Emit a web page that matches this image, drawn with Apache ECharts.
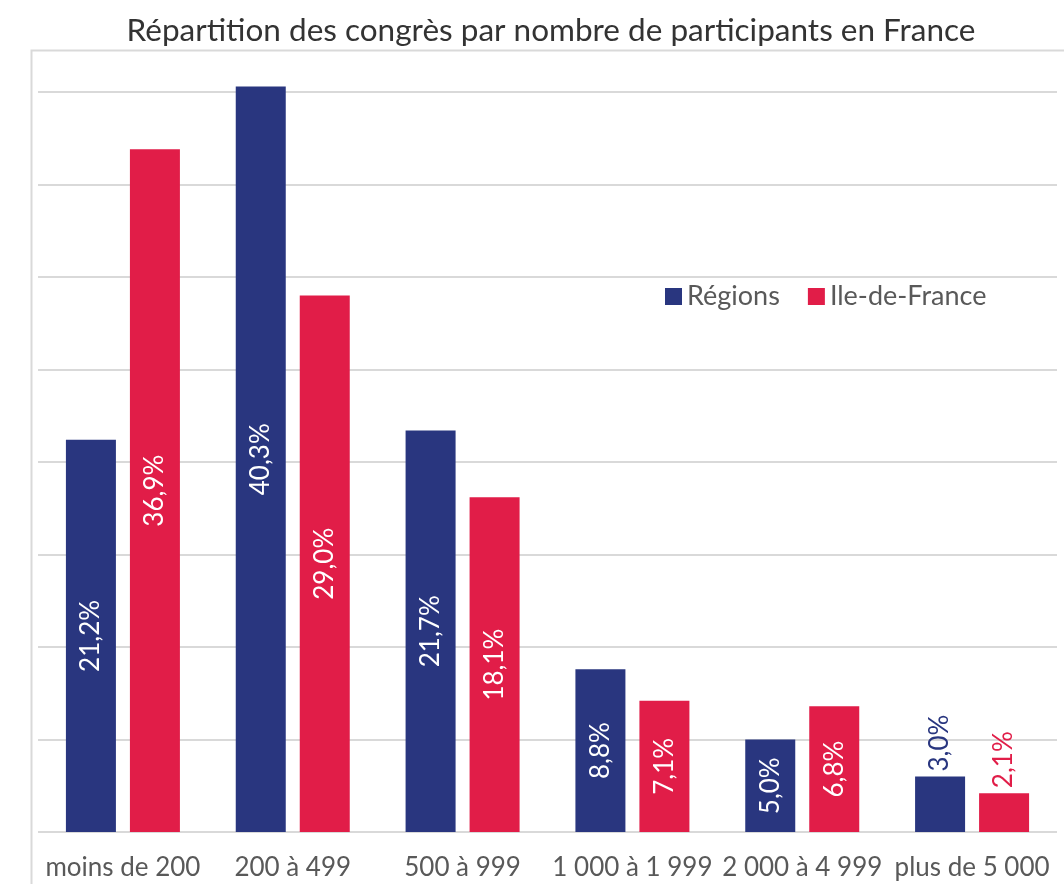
<!DOCTYPE html>
<html>
<head>
<meta charset="utf-8">
<script src="https://cdn.jsdelivr.net/npm/echarts@6/dist/echarts.min.js"></script>
<style>
    html, body { margin: 0; padding: 0; background: #fff; }
    #chart { width: 1064px; height: 884px; }
</style>
</head>
<body>
<div id="chart"></div>
<script>
const categories = ["moins de 200", "200 à 499", "500 à 999", "1 000 à 1 999", "2 000 à 4 999", "plus de 5 000"];
const regions = [21.2, 40.3, 21.7, 8.8, 5.0, 3.0];
const ileDeFrance = [36.9, 29.0, 18.1, 7.1, 6.8, 2.1];
const seriesNames = ["Régions", "Ile-de-France"];
const colors = ["#29367f", "#e11d48"];

const FONT = "Lato, 'Open Sans', sans-serif";
const chart = echarts.init(document.getElementById("chart"));

function formatPct(v) {
    return v.toFixed(1).replace(".", ",") + "%";
}

// small bars get their label above the bar, in the series colour
function buildData(values, color) {
    return values.map(v => {
        if (v >= 4) return v;
        return {
            value: v,
            label: {
                position: "top",
                align: "left",
                verticalAlign: "middle",
                distance: 5,
                color: color
            }
        };
    });
}

function makeSeries(i, values) {
    return {
        name: seriesNames[i],
        type: "bar",
        barWidth: 50,
        barGap: "28%",
        clip: false,
        itemStyle: { color: colors[i] },
        label: {
            show: true,
            position: "inside",
            rotate: 90,
            color: "#ffffff",
            fontFamily: FONT,
            fontSize: 26,
            formatter: p => formatPct(p.value)
        },
        data: buildData(values, colors[i])
    };
}

const option = {
    backgroundColor: "#ffffff",
    animation: false,
    title: {
        text: "Répartition des congrès par nombre de participants en France",
        left: 546,
        textAlign: "center",
        top: 10,
        textStyle: {
            fontFamily: FONT,
            fontWeight: "normal",
            fontSize: 31.5,
            color: "#333333"
        }
    },
    graphic: [{
        type: "rect",
        left: 29,
        top: 48,
        shape: { width: 1060, height: 860 },
        style: { fill: "none", stroke: "#d9d9d9", lineWidth: 2 },
        z: -1
    }],
    legend: {
        left: 660,
        top: 278,
        itemWidth: 17,
        itemHeight: 17,
        itemGap: 28,
        icon: "rect",
        textStyle: {
            fontFamily: FONT,
            fontSize: 27,
            color: "#595959"
        },
        data: seriesNames
    },
    grid: {
        left: 38,
        right: 7,
        top: 92,
        bottom: 52
    },
    xAxis: {
        type: "category",
        data: categories,
        axisLine: { show: false },
        axisTick: { show: false },
        axisLabel: {
            margin: 23,
            fontFamily: FONT,
            fontSize: 26,
            color: "#595959",
            interval: 0
        }
    },
    yAxis: {
        type: "value",
        min: 0,
        max: 40,
        interval: 5,
        axisLabel: { show: false },
        axisLine: { show: false },
        axisTick: { show: false },
        splitLine: { lineStyle: { color: "#d9d9d9", width: 2 } }
    },
    series: [
        makeSeries(0, regions),
        makeSeries(1, ileDeFrance)
    ]
};

chart.setOption(option);
</script>
</body>
</html>
